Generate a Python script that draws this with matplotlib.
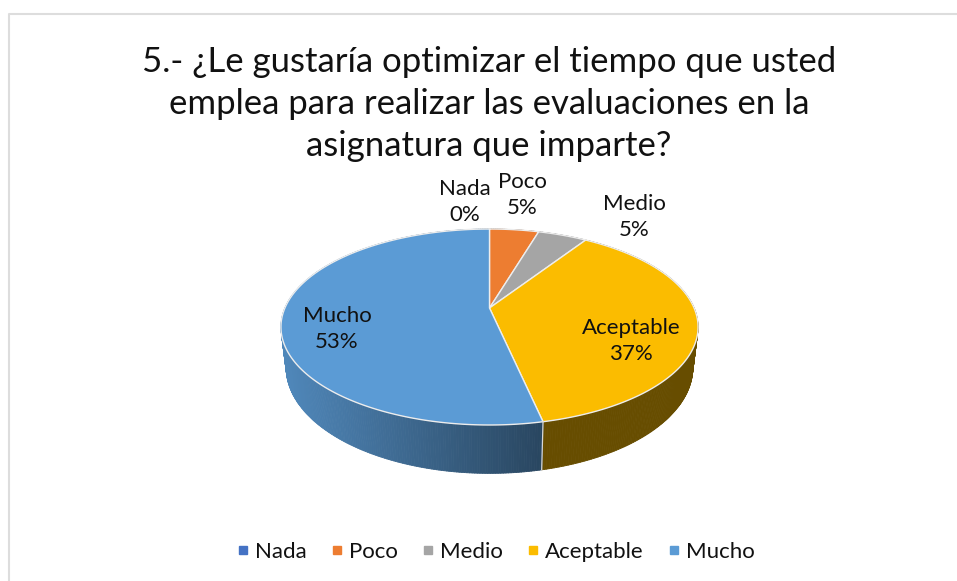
import numpy as np
import matplotlib
matplotlib.use("Agg")
import matplotlib.pyplot as plt
from matplotlib.collections import PolyCollection
from matplotlib.lines import Line2D
from matplotlib.patches import Polygon

plt.rcParams['font.family'] = ['Lato', 'DejaVu Sans']

title = "5.- ¿Le gustaría optimizar el tiempo que usted\nemplea para realizar las evaluaciones en la\nasignatura que imparte?"
categories = ["Nada", "Poco", "Medio", "Aceptable", "Mucho"]
values = [0, 4.6, 4.6, 37.4, 53.4]
colors = ["#4472C4", "#ED7D31", "#A5A5A5", "#FBBC00", "#5B9BD5"]
label_pos = [(465, 202), (522, 195), (634, 217), (631, 341), (337, 329)]

# pie geometry in pixels, the chart has perspective so the apex is off centre
cx, cy = 489.5, 308
sx, sy = 204.6, 94.3
persp = 0.194
depth = 39


def project(theta, drop=0.0):
    X = np.sin(theta)
    Y = np.cos(theta)
    w = 1 + persp * Y
    squeeze = 1 - 0.025 * (drop > 0)
    return cx + sx * X / w * squeeze, cy - sy * Y / w + drop / w


fig = plt.figure(figsize=(9.57, 5.81), dpi=100)
ax = fig.add_axes([0, 0, 1, 1])
ax.set_xlim(0, 957)
ax.set_ylim(581, 0)
ax.axis('off')

# chart frame
ax.plot([9, 9, 957], [581, 14, 14], color='#DDDDDD', lw=1.5)

edges = np.cumsum([0] + values) / sum(values) * 2 * np.pi

# side walls
for i, c in enumerate(colors):
    th = np.linspace(edges[i], edges[i + 1], max(2, int(values[i] * 6)))
    x0, y0 = project(th)
    x1, y1 = project(th, depth)
    quads = []
    cols = []
    base = np.array(matplotlib.colors.to_rgb(c))
    for j in range(len(th) - 1):
        quads.append([(x0[j], y0[j]), (x0[j + 1], y0[j + 1]), (x1[j + 1], y1[j + 1]), (x1[j], y1[j])])
        if categories[i] == "Mucho":
            shade = np.interp(x0[j], [285, 544], [0.87, 0.45])
        else:
            shade = 0.41
        cols.append(base * shade)
    ax.add_collection(PolyCollection(quads, facecolors=cols, edgecolors=cols, linewidths=0.6))

# seam between the two visible wall pieces
sx0, sy0 = project(edges[4])
sx1, sy1 = project(edges[4], depth)
ax.plot([sx0, sx1], [sy0, sy1], color='#D8D8D8', lw=0.9)

# top face
for i, c in enumerate(colors):
    if values[i] == 0:
        continue
    th = np.linspace(edges[i], edges[i + 1], 200)
    x, y = project(th)
    pts = np.column_stack([np.r_[cx, x], np.r_[cy, y]])
    ax.add_patch(Polygon(pts, closed=True, facecolor=c, edgecolor='#EDEDED', lw=1.0, joinstyle='round'))

# labels
for name, v, (lx, ly) in zip(categories, values, label_pos):
    ax.text(lx, ly, f"{name}\n{v / sum(values) * 100:.0f}%", ha='center', va='center',
            fontsize=16, color='#111111', linespacing=1.42)

ax.text(489, 104, title, ha='center', va='center', fontsize=25, color='#111111', linespacing=1.4)

handles = [Line2D([], [], marker='s', ls='none', color=c, markersize=5.6) for c in colors]
ax.legend(handles, categories, loc='center', bbox_to_anchor=(495.5, 552), bbox_transform=ax.transData,
          ncol=5, frameon=False, fontsize=16, handlelength=0.6, handletextpad=0.25,
          columnspacing=1.05, labelcolor='#111111')

fig.savefig("out.png", dpi=100)
